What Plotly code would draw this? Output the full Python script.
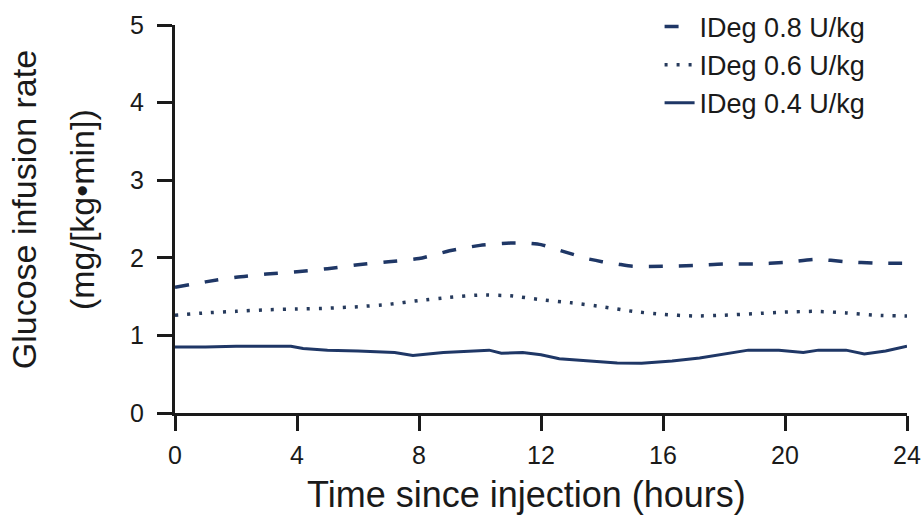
import plotly.graph_objects as go

# ---- data ----
hours_08 = [0, 1, 2, 3, 4, 5, 6, 7, 8, 9, 10, 11, 11.5, 12, 12.5, 13, 13.5, 14, 14.5,
            15, 16, 17, 18, 19, 20, 21, 22, 23, 24]
gir_08 = [1.62, 1.69, 1.75, 1.79, 1.82, 1.86, 1.91, 1.95, 1.99, 2.09, 2.16, 2.19, 2.19,
          2.17, 2.11, 2.05, 1.99, 1.95, 1.92, 1.89, 1.89, 1.90, 1.92, 1.92, 1.94, 1.98,
          1.95, 1.93, 1.93]

hours_06 = [0, 1, 2, 3, 4, 5, 6, 7, 8, 9, 10, 11, 12, 13, 14, 15, 16, 17, 18, 19, 20,
            21, 22, 23, 24]
gir_06 = [1.26, 1.29, 1.31, 1.33, 1.34, 1.35, 1.37, 1.40, 1.45, 1.49, 1.52, 1.51, 1.46,
          1.42, 1.37, 1.31, 1.27, 1.25, 1.26, 1.28, 1.30, 1.31, 1.29, 1.26, 1.25]

hours_04 = [0, 1, 2, 3, 3.8, 4.2, 5, 6, 7.2, 7.8, 8.8, 10.3, 10.7, 11.4, 12, 12.6, 13.6,
            14.5, 15.3, 16.3, 17.2, 17.9, 18.8, 19.8, 20.6, 21.1, 22, 22.6, 23.3, 24]
gir_04 = [0.85, 0.85, 0.86, 0.86, 0.86, 0.83, 0.81, 0.80, 0.78, 0.74, 0.78, 0.81, 0.77,
          0.78, 0.75, 0.70, 0.67, 0.645, 0.64, 0.67, 0.71, 0.75, 0.81, 0.81, 0.78, 0.81,
          0.81, 0.76, 0.80, 0.86]

series_names = ["IDeg 0.8 U/kg", "IDeg 0.6 U/kg", "IDeg 0.4 U/kg"]
x_ticks = [0, 4, 8, 12, 16, 20, 24]
y_ticks = [0, 1, 2, 3, 4, 5]
x_title = "Time since injection (hours)"
y_title_lines = ["Glucose infusion rate", "(mg/[kg•min])"]

NAVY = "#1f3766"
FONT = "Liberation Sans, Arial, Helvetica, sans-serif"

fig = go.Figure()
fig.add_trace(go.Scatter(x=hours_08, y=gir_08, mode="lines", name=series_names[0],
                         line=dict(color=NAVY, width=3.5, dash="14px,16px", shape="spline",
                                   smoothing=0.6)))
fig.add_trace(go.Scatter(x=hours_06, y=gir_06, mode="lines", name=series_names[1],
                         line=dict(color="#263a5c", width=3.5, dash="3px,9px", shape="spline",
                                   smoothing=0.6)))
fig.add_trace(go.Scatter(x=hours_04, y=gir_04, mode="lines", name=series_names[2],
                         line=dict(color=NAVY, width=3)))

axis_common = dict(
    showline=True, linecolor="#1a1a1a", linewidth=3,
    ticks="outside", ticklen=15, tickwidth=3, tickcolor="#1a1a1a",
    showgrid=False, zeroline=False,
    tickfont=dict(family=FONT, size=25, color="#1a1a1a"),
)

fig.update_layout(
    width=924, height=520,
    margin=dict(l=175, r=17, t=25, b=107, autoexpand=False),
    paper_bgcolor="white", plot_bgcolor="white",
    font=dict(family=FONT, color="#1a1a1a"),
    xaxis=dict(range=[0, 24], tickvals=x_ticks, ticklabelstandoff=3, **axis_common),
    yaxis=dict(range=[0, 5], tickvals=y_ticks, ticklabelstandoff=8, **axis_common),
    legend=dict(x=0.662, y=1.058, xanchor="left", yanchor="top",
                font=dict(family=FONT, size=27, color="#1a1a1a"),
                bgcolor="rgba(0,0,0,0)", tracegroupgap=0),
    showlegend=True,
)

fig.add_annotation(text=x_title, xref="paper", yref="paper",
                   x=0.48, y=-0.211, xanchor="center", yanchor="middle", showarrow=False,
                   font=dict(family=FONT, size=36, color="#1a1a1a"))
fig.add_annotation(text=y_title_lines[0], xref="paper", yref="paper",
                   x=-0.206, y=0.523, xanchor="center", yanchor="middle", showarrow=False,
                   textangle=-90, font=dict(family=FONT, size=34, color="#1a1a1a"))
fig.add_annotation(text=y_title_lines[1], xref="paper", yref="paper",
                   x=-0.127, y=0.523, xanchor="center", yanchor="middle", showarrow=False,
                   textangle=-90, font=dict(family=FONT, size=34, color="#1a1a1a"))

fig.write_html("out.html")
